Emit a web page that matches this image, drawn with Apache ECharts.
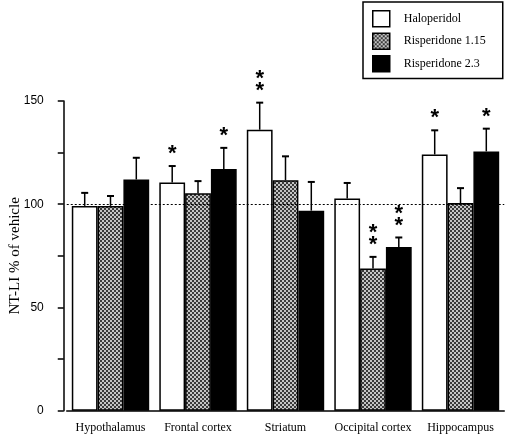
<!DOCTYPE html>
<html><head><meta charset="utf-8">
<script src="https://cdn.jsdelivr.net/npm/echarts@6/dist/echarts.min.js"></script>
<style>html,body{margin:0;padding:0;background:#fff;}#c{width:508px;height:439px;}</style>
</head><body><div id="c"></div>
<script>
const categories = ['Hypothalamus', 'Frontal cortex', 'Striatum', 'Occipital cortex', 'Hippocampus'];
const seriesNames = ['Haloperidol', 'Risperidone 1.15', 'Risperidone 2.3'];
const haloperidol = [99.2, 110.5, 136.1, 102.8, 124.1];
const risperidone115 = [99.2, 105.3, 111.6, 68.9, 100.6];
const risperidone23 = [112.0, 117.1, 96.9, 79.3, 125.6];
const haloperidolErr = [6.3, 8.0, 13.1, 7.5, 11.7];
const risperidone115Err = [4.8, 5.9, 11.6, 5.6, 7.2];
const risperidone23Err = [10.5, 10.2, 13.9, 4.6, 11.0];
const haloperidolSig = ['', '*', '**', '', '*'];
const risperidone115Sig = ['', '', '', '**', ''];
const risperidone23Sig = ['', '*', '', '**', '*'];
const yTicks = [0, 50, 100, 150];

// dithered grey pattern
const pc = document.createElement('canvas');
pc.width = 4; pc.height = 4;
const pctx = pc.getContext('2d');
pctx.fillStyle = '#c4c4c4'; pctx.fillRect(0, 0, 4, 4);
pctx.fillStyle = '#3a3a3a';
pctx.fillRect(0, 0, 2, 2); pctx.fillRect(2, 2, 2, 2);

const values = [haloperidol, risperidone115, risperidone23];
const errs = [haloperidolErr, risperidone115Err, risperidone23Err];
const sigs = [haloperidolSig, risperidone115Sig, risperidone23Sig];
const fills = ['#ffffff', {image: pc, repeat: 'repeat'}, '#000000'];
const BW = 25.8;

const series = [];
values.forEach((vals, s) => {
  const bar = {
    type: 'bar', name: seriesNames[s], data: vals,
    barWidth: BW, barGap: '0%',
    itemStyle: {color: fills[s], borderColor: '#000', borderWidth: 1.5},
    emphasis: {disabled: true}, z: 2
  };
  if (s === 0) {
    bar.markLine = {
      silent: true, symbol: 'none', label: {show: false},
      lineStyle: {color: '#000', type: [2, 2], width: 1},
      data: [{yAxis: 100}]
    };
  }
  series.push(bar);
});
values.forEach((vals, s) => {
  series.push({
    type: 'custom', name: 'err' + s, z: 3, silent: true,
    data: vals.map((v, i) => [i, v, errs[s][i]]),
    renderItem: function (params, api) {
      const i = api.value(0), v = api.value(1), e = api.value(2);
      const star = sigs[s][i];
      const base = api.coord([i, v]);
      const top = api.coord([i, v + e]);
      const x = base[0] + (s - 1) * BW;
      const children = [
        {type: 'line', shape: {x1: x, y1: base[1], x2: x, y2: top[1]}, style: {stroke: '#000', lineWidth: 1.5}},
        {type: 'line', shape: {x1: x - 3.5, y1: top[1], x2: x + 3.5, y2: top[1]}, style: {stroke: '#000', lineWidth: 2}}
      ];
      if (star) {
        for (let k = 0; k < star.length; k++) {
          children.push({type: 'text', style: {
            text: '*', x: x, y: top[1] - 1 - k * 11.7,
            align: 'center', verticalAlign: 'bottom',
            font: 'bold 22px "Liberation Sans"', fill: '#000'
          }});
        }
      }
      return {type: 'group', children: children};
    }
  });
});

const chart = echarts.init(document.getElementById('c'));
chart.setOption({
  animation: false,
  backgroundColor: '#fff',
  grid: {left: 66.75, width: 437.5, top: 101, bottom: 28.3, containLabel: false, outerBoundsMode: 'none'},
  legend: {
    data: seriesNames, orient: 'vertical', left: 363, top: 2,
    icon: 'rect',
    borderColor: '#000', borderWidth: 1.5, padding: [8, 17, 6, 9],
    itemWidth: 17, itemHeight: 16, itemGap: 5,
    textStyle: {fontFamily: 'Liberation Serif', fontSize: 12, color: '#000', padding: [0, 0, 0, 9]},
    itemStyle: {borderColor: '#000', borderWidth: 1.5},
    selectedMode: false
  },
  xAxis: {
    type: 'category', data: categories,
    axisLine: {lineStyle: {color: '#000', width: 1.5}},
    axisTick: {alignWithLabel: true, length: 4, inside: false, lineStyle: {color: '#000', width: 1.5}},
    axisLabel: {interval: 0, fontFamily: 'Liberation Serif', fontSize: 12, color: '#000', margin: 11}
  },
  yAxis: {
    type: 'value', min: 0, max: 150, interval: 25, offset: 3,
    name: 'NT-LI % of vehicle', nameLocation: 'middle', nameGap: 41, nameMoveOverlap: false,
    nameTextStyle: {fontFamily: 'Liberation Serif', fontSize: 15, color: '#000'},
    splitLine: {show: false},
    axisLine: {show: true, lineStyle: {color: '#000', width: 1.5}},
    axisTick: {show: true, length: 6, lineStyle: {color: '#000', width: 1.5}},
    axisLabel: {
      fontFamily: 'Liberation Sans', fontSize: 12, color: '#000', margin: 20,
      formatter: v => yTicks.indexOf(v) >= 0 ? String(v) : ''
    }
  },
  series: series
});
</script></body></html>
